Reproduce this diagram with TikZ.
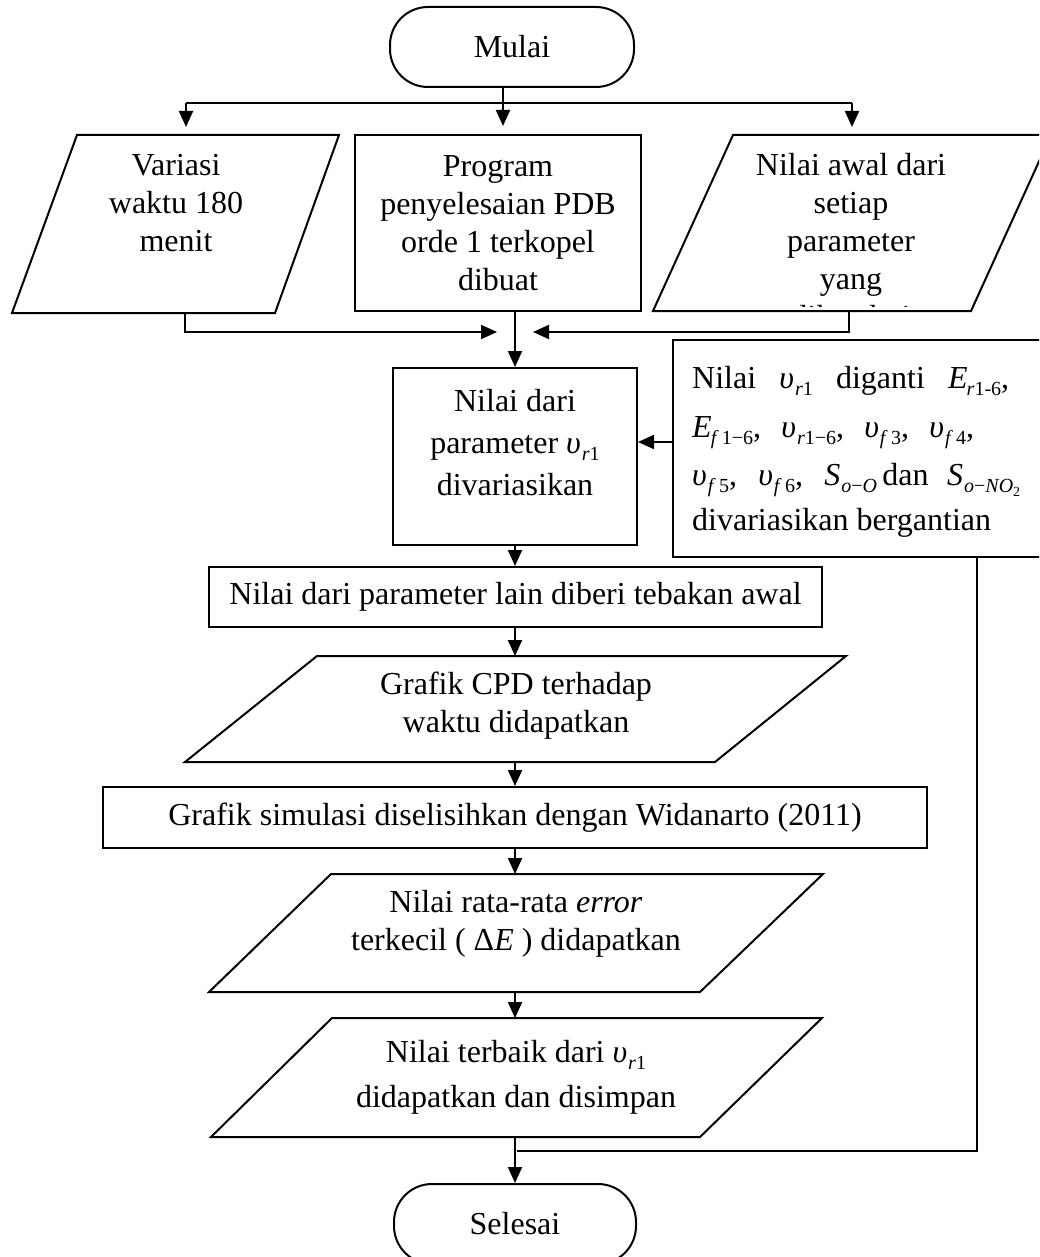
\documentclass[tikz,border=0pt]{standalone}
\usepackage{fontspec}
\setmainfont{Liberation Serif}
\usetikzlibrary{arrows.meta}

\newcommand{\sbx}[1]{\raisebox{-7pt}{\fontsize{20}{20}\selectfont #1}}
\newcommand{\sbxx}[1]{\raisebox{-4pt}{\fontsize{14}{14}\selectfont #1}}
\newcommand{\mv}[1]{\textit{υ}\kern1pt\sbx{#1}}
\newcommand{\mE}[1]{\textit{E}\kern-1pt\sbx{#1}}
\newcommand{\mS}[1]{\textit{S}\kern1pt\sbx{#1}}

\begin{document}
\begin{tikzpicture}[x=1pt,y=-1pt,
  txt/.style={font=\fontsize{32}{38}\selectfont, align=center, inner sep=0pt},
  rtxt/.style={font=\fontsize{32}{38}\selectfont, inner sep=0pt, anchor=base west},
  box/.style={draw, line width=2pt},
  ln/.style={line width=2pt},
  arr/.style={ln, -{Triangle[length=16pt,width=14pt]}},
]
\useasboundingbox (0,0) rectangle (1039,1257);
\fill[white] (0,0) rectangle (1039,1257);
\clip (0,0) rectangle (1039,1257);

% start
\node[txt, box, rounded corners=38pt, minimum width=244pt, minimum height=80pt] (mulai) at (512,47) {Mulai};
\coordinate (split) at (503,103);

% top row
\draw[box] (77,135) -- (339,135) -- (275,313) -- (12,313) -- cycle;
\node[txt] (var) at (176,203) {Variasi\\waktu 180\\menit};
\coordinate (varN) at (186,135);
\coordinate (varS) at (185,313);

\node[txt, box, minimum width=286pt, minimum height=176pt] (prog) at (498,223) {Program\\penyelesaian PDB\\orde 1 terkopel\\dibuat};

\draw[box] (733,135) -- (1051,135) -- (971,311) -- (653,311) -- cycle;
\begin{scope}
  \clip (640,137) rectangle (1039,306);
  \node[txt] (awal) at (851,241) {Nilai awal dari\\setiap\\parameter\\yang\\diketahui};
\end{scope}
\coordinate (awalN) at (852,135);
\coordinate (awalS) at (849,311);

% branching from start
\draw[ln] (mulai.south -| split) -- (split);
\draw[ln] (varN |- split) -- (awalN |- split);
\draw[arr, shorten >=8pt] (varN |- split) -- (varN);
\draw[arr, shorten >=8pt] (split) -- (split |- prog.north);
\draw[arr, shorten >=8pt] (awalN |- split) -- (awalN);

% parameter box
\node[box, minimum width=244pt, minimum height=177pt] (vbox) at (515,456.5) {};
\node[txt, font=\fontsize{32}{42}\selectfont] (vtxt) at (515,443) {Nilai dari\\parameter \mv{\textit{r}1}\\divariasikan};

% merge
\coordinate (mL) at (497,332);
\coordinate (mR) at (533,332);
\draw[arr] (varS) |- (mL);
\draw[arr] (awalS) |- (mR);
\draw[arr] (vbox.north |- prog.south) -- (vbox.north);

% right box
\node[box, anchor=north west, minimum width=420pt, minimum height=217pt] (rbox) at (672,339) {};
\node[rtxt] (rl1) at (692,388) {\makebox[317pt][s]{Nilai \mv{\textit{r}1} diganti \mE{\textit{r}1-6},}};
\node[rtxt] (rl2) at (692,437) {\makebox[282pt][s]{\mE{\textit{f}\,1−6}, \mv{\textit{r}1−6}, \mv{\textit{f}\,3}, \mv{\textit{f}\,4},}};
\node[rtxt] (rl3) at (692,485) {\makebox[328pt][s]{\mv{\textit{f}\,5}, \mv{\textit{f}\,6}, \mS{\textit{o}−\textit{O}}\,dan \mS{\textit{o}−\textit{NO}\sbxx{2}}}};
\node[rtxt] (rl4) at (692,530) {divariasikan bergantian};
\draw[arr] (rbox.west |- 0,442) -- (vbox.east |- 0,442);

% return line
\coordinate (ret) at (977,1151);
\draw[ln] (rbox.south -| ret) -- (ret) -- (517,1151);

% main chain
\node[txt, box, minimum width=613pt, minimum height=60pt] (teb) at (515.5,597) {Nilai dari parameter lain diberi tebakan awal};
\draw[arr] (vbox.south) -- (vbox.south |- teb.north);

\draw[box] (317,656) -- (846,656) -- (715,762) -- (185,762) -- cycle;
\node[txt] (cpd) at (516,706) {Grafik CPD terhadap\\waktu didapatkan};
\coordinate (cpdN) at (515,656);
\coordinate (cpdS) at (515,762);
\draw[arr] (teb.south -| cpdN) -- (cpdN);

\node[txt, box, minimum width=824pt, minimum height=61pt] (sim) at (515,817.5) {Grafik simulasi diselisihkan dengan Widanarto (2011)};
\draw[arr] (cpdS) -- (cpdS |- sim.north);

\draw[box] (331,874) -- (823,874) -- (700,992) -- (209,992) -- cycle;
\node[txt] (err) at (516,924) {Nilai rata-rata \textit{error}\\terkecil ( Δ\textit{E} ) didapatkan};
\coordinate (errN) at (515,874);
\coordinate (errS) at (515,992);
\draw[arr] (sim.south -| errN) -- (errN);

\draw[box] (332,1018) -- (822,1018) -- (700,1137) -- (211,1137) -- cycle;
\node[txt, font=\fontsize{32}{45}\selectfont] (best) at (516,1077) {Nilai terbaik dari \mv{\textit{r}1}\\didapatkan dan disimpan};
\coordinate (bestN) at (515,1018);
\coordinate (bestS) at (515,1137);
\draw[arr] (errS) -- (bestN);

\node[txt, box, rounded corners=38pt, minimum width=242pt, minimum height=80pt] (selesai) at (515,1224) {Selesai};
\draw[arr] (bestS) -- (bestS |- selesai.north);
\end{tikzpicture}
\end{document}
